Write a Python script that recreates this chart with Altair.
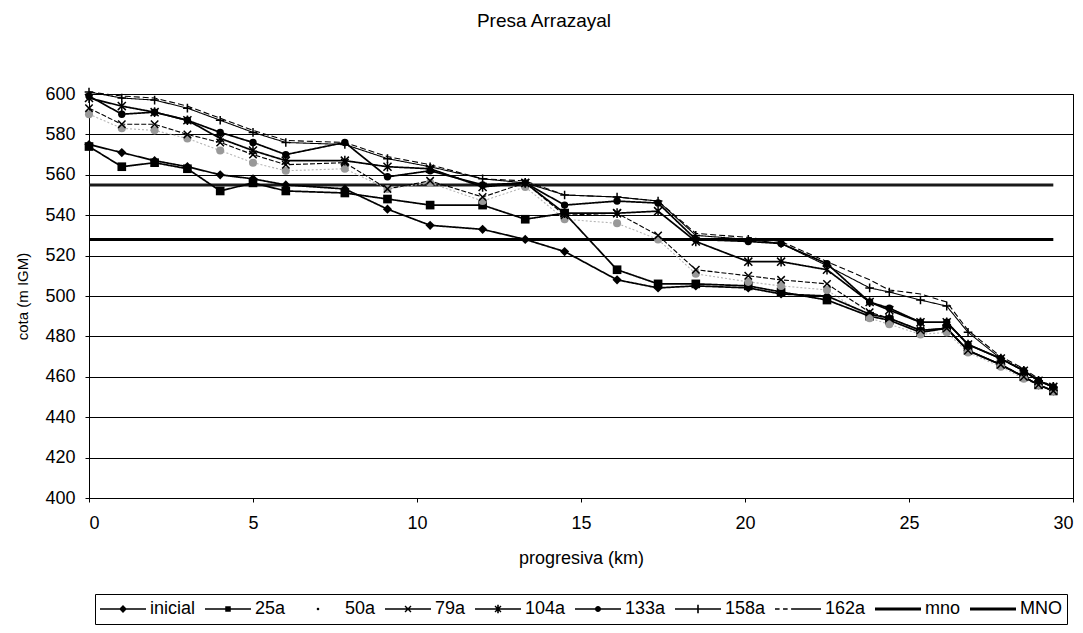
import altair as alt
import pandas as pd

TITLE = "Presa Arrazayal"
X_TITLE = "progresiva (km)"
Y_TITLE = "cota (m IGM)"

KM = [0, 1, 2, 3, 4, 5, 6, 7.8, 9.1, 10.4, 12.0, 13.3, 14.5, 16.1, 17.35, 18.5,
      20.1, 21.1, 22.5, 23.8, 24.4, 25.35, 26.15, 26.8, 27.8, 28.5, 28.95, 29.4]

INICIAL = [575, 571, 567, 564, 560, 558, 555, 553, 543, 535, 533, 528, 522, 508, 504, 505,
           504, 501, 500, 491, 489, 483, 484, 473, 466, 460, 456, 453]
A25 = [574, 564, 566, 563, 552, 556, 552, 551, 548, 545, 545, 538, 541, 513, 506, 506,
       505, 502, 498, 490, 488, 482, 484, 473, 466, 460, 456, 453]
A50 = [590, 583, 582, 578, 572, 566, 562, 563, 553, 556, 547, 554, 538, 536, 528, 511,
       507, 505, 503, 489, 486, 481, 482, 472, 465, 459, 456, 453]
A79 = [593, 585, 585, 580, 576, 570, 565, 566, 553, 557, 549, 556, 540, 541, 530, 513,
       510, 508, 506, 492, 489, 483, 484, 473, 466, 460, 456, 453]
A104 = [598, 594, 591, 587, 578, 572, 567, 567, 564, 563, 554, 556, 541, 541, 542, 527,
        517, 517, 513, 497, 493, 487, 487, 476, 469, 463, 458, 455]
A133 = [599, 590, 591, 587, 581, 576, 570, 576, 559, 562, 555, 556, 545, 547, 546, 528,
        527, 526, 516, 497, 494, 487, 487, 476, 469, 463, 458, 455]
A158 = [601, 598, 597, 593, 587, 581, 576, 575, 568, 564, 558, 556, 550, 549, 547, 530,
        528, 526, 515, 504, 502, 498, 495, 482, 469, 463, 458, 455]
A162 = [601, 599, 598, 594, 588, 582, 577, 576, 569, 565, 558, 557, 550, 549, 547, 531,
        529, 527, 517, 508, 503, 501, 497, 483, 470, 464, 459, 455]

LEVEL_KM = [0, 29.4]
MNO_BAJO = 528   # mno
MNO_ALTO = 555   # MNO

SERIES = ["inicial", "25a", "50a", "79a", "104a", "133a", "158a", "162a", "mno", "MNO"]

rows = []
for name, vals in zip(SERIES[:8], [INICIAL, A25, A50, A79, A104, A133, A158, A162]):
    for k, v in zip(KM, vals):
        rows.append({"km": k, "cota": v, "serie": name})
for name, lvl in [("mno", MNO_BAJO), ("MNO", MNO_ALTO)]:
    for k in LEVEL_KM:
        rows.append({"km": k, "cota": lvl, "serie": name})
df = pd.DataFrame(rows)

FONT = "Liberation Sans"

x_enc = alt.X("km:Q", scale=alt.Scale(domain=[0, 30], nice=False),
              axis=alt.Axis(title=X_TITLE, values=[0, 5, 10, 15, 20, 25, 30], grid=False,
                            tickSize=4, labelPadding=12, titlePadding=17,
                            labelFontSize=18, titleFontSize=18))
y_enc = alt.Y("cota:Q", scale=alt.Scale(domain=[400, 600], nice=False, zero=False),
              axis=alt.Axis(title=Y_TITLE, values=list(range(400, 601, 20)), grid=True,
                            gridColor="black", gridWidth=1, gridOpacity=1,
                            tickSize=4, labelPadding=10, titlePadding=14,
                            labelFontSize=18, titleFontSize=15))

base = alt.Chart(df).encode(x=x_enc, y=y_enc)


def line_group(names, width, dashes, colors):
    return base.mark_line(clip=False, strokeWidth=width).encode(
        detail="serie:N",
        color=alt.Color("serie:N", scale=alt.Scale(domain=names, range=colors), legend=None),
        strokeDash=alt.StrokeDash("serie:N", scale=alt.Scale(domain=names, range=dashes),
                                  legend=None),
    ).transform_filter(alt.FieldOneOfPredicate(field="serie", oneOf=names))


HEAVY = ["inicial", "25a", "104a", "133a"]
LIGHT = ["50a", "79a", "158a", "162a"]
LEVELS = ["mno", "MNO"]

heavy_lines = line_group(HEAVY, 1.7, [[1, 0]] * 4, ["black"] * 4)
light_lines = line_group(LIGHT, 1.1, [[2, 2], [5, 2], [1, 0], [6, 3]],
                         ["#b5b5b5", "black", "black", "black"])
level_lines = line_group(LEVELS, 3, [[1, 0], [1, 0]], ["black", "#1a1a1a"])

FILLED = ["inicial", "25a", "50a", "133a"]
filled_pts = base.mark_point(filled=True, opacity=1).encode(
    shape=alt.Shape("serie:N", scale=alt.Scale(domain=FILLED,
                    range=["diamond", "square", "circle", "circle"]), legend=None),
    size=alt.Size("serie:N", scale=alt.Scale(domain=FILLED, range=[85, 55, 10, 75]), legend=None),
    color=alt.Color("serie:N", scale=alt.Scale(domain=FILLED,
                    range=["black", "black", "#999999", "black"]), legend=None),
).transform_filter(alt.FieldOneOfPredicate(field="serie", oneOf=FILLED))

OPEN = ["79a", "104a", "158a"]
OPEN_PATHS = ["M-1,-1L1,1M-1,1L1,-1",
              "M-1,-1L1,1M-1,1L1,-1M0,-1.2V1.2",
              "M0,-1V1M-1,0H1"]
open_pts = base.mark_point(filled=False, opacity=1, strokeWidth=1.5, color="black").encode(
    shape=alt.Shape("serie:N", scale=alt.Scale(domain=OPEN, range=OPEN_PATHS), legend=None),
    size=alt.Size("serie:N", scale=alt.Scale(domain=OPEN, range=[55, 75, 90]), legend=None),
).transform_filter(alt.FieldOneOfPredicate(field="serie", oneOf=OPEN))

# legend glyphs: closed, filled outlines only (line segment + marker)
BAR = "M-1,-0.035H1V0.035H-1Z"
X_GLYPH = ("M-0.109,-0.151L0.151,0.109L0.109,0.151L-0.151,-0.109Z"
           "M-0.151,0.109L0.109,-0.151L0.151,-0.109L-0.109,0.151Z")
VBAR = "M-0.035,-0.18H0.035V0.18H-0.035Z"
LEGEND_PATHS = [
    BAR + "M0,-0.17L0.17,0L0,0.17L-0.17,0Z",
    BAR + "M-0.12,-0.12H0.12V0.12H-0.12Z",
    "M-0.05,-0.05H0.05V0.05H-0.05Z",
    BAR + X_GLYPH,
    BAR + X_GLYPH + VBAR,
    BAR + "M-0.13,0A0.13,0.13 0 1,1 0.13,0A0.13,0.13 0 1,1 -0.13,0Z",
    BAR + VBAR,
    "M-1,-0.03H-0.8V0.03H-1ZM-0.65,-0.03H-0.45V0.03H-0.65ZM-0.3,-0.03H1V0.03H-0.3Z",
    "M-1,-0.07H1V0.07H-1Z",
    "M-1,-0.07H1V0.07H-1Z",
]
legend_layer = base.mark_point(filled=True, fill="black", opacity=0).encode(
    shape=alt.Shape("serie:N", scale=alt.Scale(domain=SERIES, range=LEGEND_PATHS),
                    legend=alt.Legend(title=None, orient="none", legendX=6, legendY=500,
                                      direction="horizontal", columns=10,
                                      symbolSize=2116, symbolStrokeWidth=0,
                                      symbolFillColor="black", symbolStrokeColor="black",
                                      symbolOpacity=1, labelFontSize=18, labelFont=FONT,
                                      labelColor="black", labelOffset=4,
                                      strokeColor="black", padding=5, columnPadding=9,
                                      clipHeight=20)),
)

chart = alt.layer(level_lines, light_lines, heavy_lines, filled_pts, open_pts,
                  legend_layer).resolve_scale(
    shape="independent", size="independent", color="independent",
    strokeDash="independent",
).properties(
    width=984, height=404,
    title=alt.TitleParams(TITLE, fontSize=19, font=FONT, fontWeight="normal",
                          anchor="middle", offset=54, dx=-37, color="black"),
    padding={"left": 7, "top": 3, "right": 0, "bottom": 2},
).configure_axis(
    labelFont=FONT, titleFont=FONT, labelColor="black", titleColor="black",
    domainColor="black", tickColor="black", titleFontWeight="normal",
).configure_view(stroke="black", strokeWidth=1)

chart.save("out.html", embed_options={"renderer": "svg", "actions": False})
